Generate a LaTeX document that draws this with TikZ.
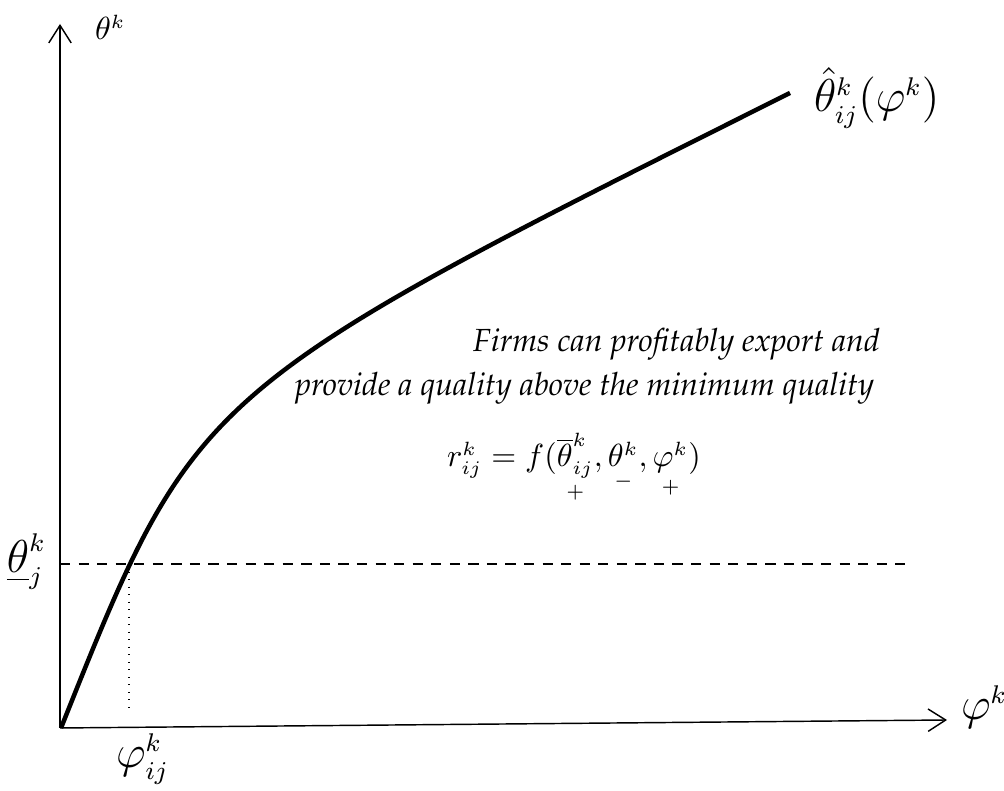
\documentclass[tikz,border=0pt]{standalone}
\usepackage{amsmath}
\usepackage[T1,TU]{fontenc}
\usetikzlibrary{arrows.meta}
\DeclareMathSizes{10}{10}{6}{5}
\DeclareMathSizes{14.4}{14.4}{8.5}{6}
\newcommand\palit{\fontencoding{T1}\fontfamily{ppl}\fontseries{m}\fontshape{it}\selectfont}
\tikzset{
  axisline/.style={line width=0.45pt, -{Straight Barb[length=5.5pt,width=7pt,line width=0.45pt]}},
  curveline/.style={line width=1.4pt},
  levelline/.style={line width=0.65pt, dash pattern=on 3.2pt off 2.6pt},
  dropline/.style={line width=0.35pt, dotted},
  lbl/.style={inner sep=0pt, outer sep=0pt}
}
\begin{document}
\begin{tikzpicture}[x=0.3125pt, y=-0.3125pt]
\useasboundingbox (0,0) rectangle (1004,791);
\coordinate (O) at (60,728);
\coordinate (Ytop) at (60,24);
\coordinate (Xend) at (947,720);
\coordinate (L1) at (60,564);
\coordinate (L2) at (910,564);
\coordinate (D1) at (129,564);
\coordinate (D2) at (129,714);
\coordinate (C0) at (61,728);
\coordinate (Cc) at (196,390);
\coordinate (C1) at (790,93);
% axes
\draw[axisline] (O) -- (Ytop);
\draw[axisline] (O) -- (Xend);
% level and drop lines
\draw[levelline] (L1) -- (L2);
\draw[dropline] (D1) -- (D2);
% curve
\draw[curveline] (C0) .. controls (Cc) and (Cc) .. (C1);
% labels
\node[lbl, anchor=base west] (ylab) at (95,40) {$\theta^k$};
\node[lbl, anchor=base west] (clab) at (814,112) {\Large $\hat{\theta}^k_{ij}(\varphi^k)$};
\node[lbl, anchor=base west] (tlab) at (7,573) {\Large $\underline{\theta}^k_j$};
\node[lbl, anchor=base west] (xlab) at (961,720) {\Large $\varphi^k$};
\node[lbl, anchor=base west] (plab) at (116,768) {\Large $\varphi^k_{ij}$};
\node[lbl, anchor=base east] (txta) at (880,352) {\palit Firms can profitably export and};
\node[lbl, anchor=base east] (txtb) at (874,396) {\palit provide a quality above the minimum quality};
\node[lbl, anchor=base west] (eq) at (447,467) {$r^k_{ij} = f(\underset{+}{\overline{\theta}^k_{ij}},\underset{-}{\theta^k},\underset{+}{\varphi^k})$};
\end{tikzpicture}
\end{document}
